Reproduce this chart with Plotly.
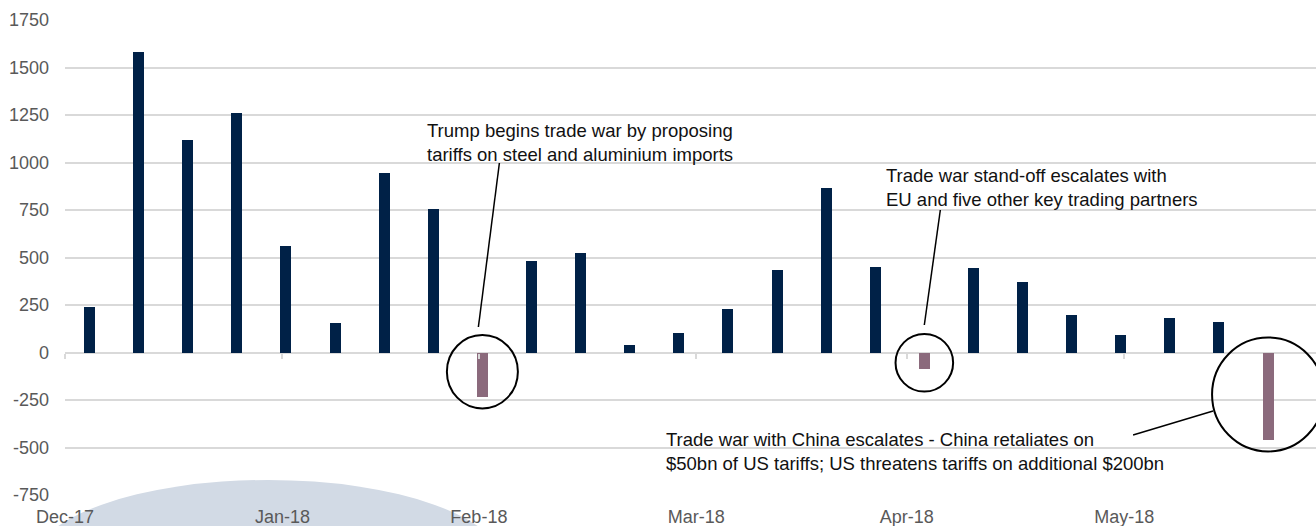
import pandas as pd
import plotly.graph_objects as go

# ---------------- data ----------------
week_dates = [
    "2018-01-04", "2018-01-11", "2018-01-18", "2018-01-25", "2018-02-01",
    "2018-02-08", "2018-02-15", "2018-02-22", "2018-03-01", "2018-03-08",
    "2018-03-15", "2018-03-22", "2018-03-29", "2018-04-05", "2018-04-12",
    "2018-04-19", "2018-04-26", "2018-05-03", "2018-05-10", "2018-05-17",
    "2018-05-24", "2018-05-31", "2018-06-07", "2018-06-14", "2018-06-21",
]
flows = [
    239, 1582, 1120, 1258, 561, 156, 947, 757, -233, 480,
    523, 42, 101, 229, 433, 865, 451, -88, 447, 371,
    196, 91, 182, 158, -458,
]
tick_dates = ["2018-01-01", "2018-02-01", "2018-03-01", "2018-04-01", "2018-05-01", "2018-06-01"]
tick_labels = ["Dec-17", "Jan-18", "Feb-18", "Mar-18", "Apr-18", "May-18"]
y_ticks = [-750, -500, -250, 0, 250, 500, 750, 1000, 1250, 1500, 1750]
y_tick_labels = [str(v) for v in y_ticks]  # ASCII hyphen for negatives, as in the original

event_texts = [
    "Trump begins trade war by proposing<br>tariffs on steel and aluminium imports",
    "Trade war stand-off escalates with<br>EU and five other key trading partners",
    "Trade war with China escalates - China retaliates on<br>$50bn of US tariffs; US threatens tariffs on additional $200bn",
]
event_weeks = ["2018-03-01", "2018-05-03", "2018-06-21"]

# ---------------- style ----------------
NAVY = "#002147"
MAUVE = "#8b6a7c"
GRID = "#d9d9d9"
TXT = "#595959"
FONT = "Liberation Sans, Arial, sans-serif"
DAY_MS = 86400000

colors = [MAUVE if v < 0 else NAVY for v in flows]

fig = go.Figure()
fig.add_trace(go.Bar(
    x=week_dates, y=flows,
    marker=dict(color=colors, line=dict(width=0)),
    width=1.57 * DAY_MS,
    xperiod=DAY_MS, xperiodalignment="middle",
    showlegend=False, hoverinfo="skip",
))
# invisible trace to carry the tick axis drawn along the zero line
fig.add_trace(go.Scatter(x=[week_dates[0]], y=[None], xaxis="x2", yaxis="y",
                         mode="markers", showlegend=False, hoverinfo="skip"))

x_range = ["2018-01-01", "2018-06-28 08:00"]

fig.update_layout(
    width=1316, height=526,
    margin=dict(l=65, r=0, t=20, b=31),
    paper_bgcolor="white", plot_bgcolor="white",
    font=dict(family=FONT, size=18, color=TXT),
    bargap=0,
    xaxis=dict(
        type="date", range=x_range,
        tickmode="array", tickvals=tick_dates, ticktext=tick_labels,
        ticks="", showgrid=False, showline=False, zeroline=False,
        tickfont=dict(family=FONT, size=18, color=TXT),
        ticklabelstandoff=9,
    ),
    xaxis2=dict(
        type="date", range=x_range, overlaying="x", anchor="free",
        position=0.3, tickmode="array", tickvals=tick_dates,
        ticks="outside", ticklen=5, tickwidth=1.5, tickcolor=GRID,
        showticklabels=False, showgrid=False, showline=False, zeroline=False,
    ),
    yaxis=dict(
        range=[-750, 1750], tickmode="array", tickvals=y_ticks, ticktext=y_tick_labels,
        showgrid=True, gridcolor=GRID, gridwidth=1.5,
        zeroline=True, zerolinecolor=GRID, zerolinewidth=2,
        ticks="", showline=False,
        tickfont=dict(family=FONT, size=18, color=TXT),
        ticklabelstandoff=15,
    ),
)

# watermark arc (background decoration)
fig.add_shape(type="circle", xref="paper", yref="paper",
              x0=-0.0264, x1=0.3509, y0=-0.3263, y1=0.0316,
              fillcolor="#d2dae5", line=dict(width=0), layer="below")

# event circles, leader lines and texts, positioned relative to event bars
def noon(d):
    return (pd.Timestamp(d) + pd.Timedelta(hours=12)).strftime("%Y-%m-%d %H:%M")

circle_specs = [  # (center value, radius x px, radius y px)
    (-101, 35.5, 36.7),
    (-54, 28.8, 28.8),
    (-221, 56, 57),
]
leader_specs = [  # (x0, y0, x1, y1) px offsets from bar centre at zero
    (-4, 25.5, 17, 189.5),
    (0, 27.5, 16, 142.5),
    (-55, -58.5, -135, -82.5),
]
text_specs = [  # (xshift, yshift)
    (-57, 210.5),
    (-40.5, 165.5),
    (-604, -99),
]

for wk, (cy, rx, ry), (lx0, ly0, lx1, ly1), (xs, ys), txt in zip(
        event_weeks, circle_specs, leader_specs, text_specs, event_texts):
    xa = noon(wk)
    fig.add_shape(type="circle", xref="x", yref="y",
                  xsizemode="pixel", ysizemode="pixel",
                  xanchor=xa, yanchor=cy,
                  x0=-rx, x1=rx, y0=-ry, y1=ry,
                  line=dict(color="black", width=2), fillcolor="rgba(0,0,0,0)",
                  layer="above")
    fig.add_shape(type="line", xref="x", yref="y",
                  xsizemode="pixel", ysizemode="pixel",
                  xanchor=xa, yanchor=0,
                  x0=lx0, y0=ly0, x1=lx1, y1=ly1,
                  line=dict(color="black", width=1.5), layer="above")
    fig.add_annotation(x=xa, y=0, xref="x", yref="y",
                       text=txt, showarrow=False, align="left",
                       xanchor="left", yanchor="middle",
                       xshift=xs, yshift=ys,
                       font=dict(family=FONT, size=18.5, color="#111111"))

fig.write_html("out.html")
